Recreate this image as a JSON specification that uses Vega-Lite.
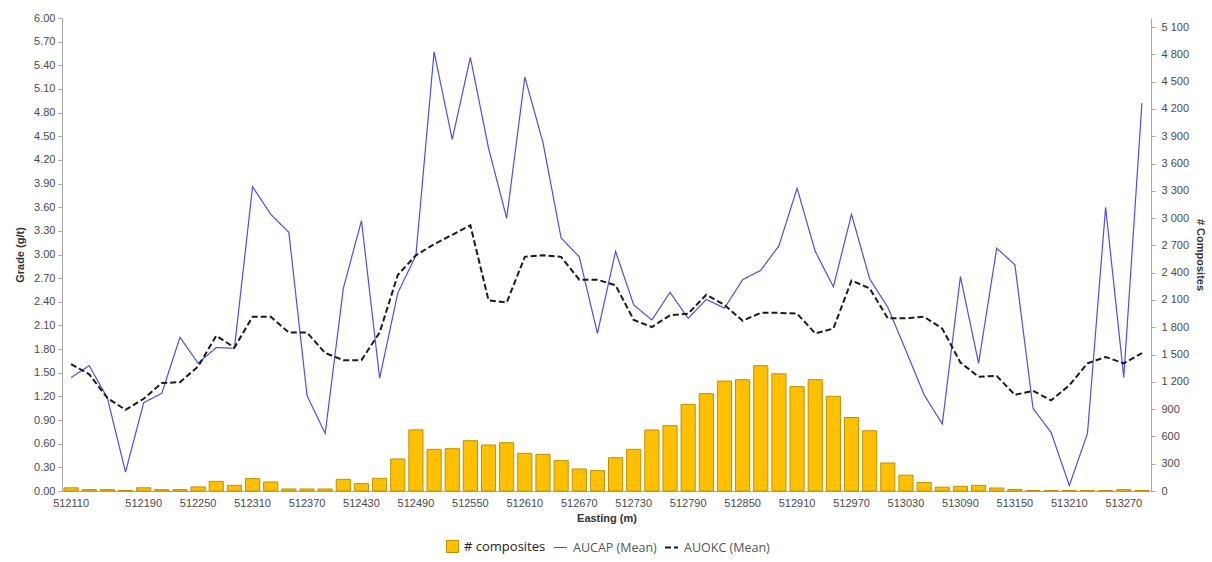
{
  "$schema": "https://vega.github.io/schema/vega-lite/v6.json",
  "width": 1089,
  "height": 473,
  "autosize": {"type": "none"},
  "padding": {"left": 62, "top": 18, "right": 61, "bottom": 71},
  "background": "white",
  "config": {
    "view": {"stroke": null},
    "font": "Liberation Sans",
    "axis": {"labelFont": "Liberation Sans", "labelFontSize": 11, "labelColor": "#4a4a4a", "titleFont": "Liberation Sans", "titleFontSize": 11, "titleFontWeight": "bold", "titleColor": "#333333", "domainColor": "#a6a6a6", "tickColor": "#a6a6a6", "gridColor": "#c4c4c4", "gridWidth": 1.3}
  },
  "data": {"values": [
    {"E": 512110, "comp": 35, "aucap": 1.44, "auokc": 1.61},
    {"E": 512130, "comp": 15, "aucap": 1.59, "auokc": 1.48},
    {"E": 512150, "comp": 15, "aucap": 1.18, "auokc": 1.18},
    {"E": 512170, "comp": 5, "aucap": 0.24, "auokc": 1.03},
    {"E": 512190, "comp": 35, "aucap": 1.12, "auokc": 1.17},
    {"E": 512210, "comp": 15, "aucap": 1.24, "auokc": 1.37},
    {"E": 512230, "comp": 15, "aucap": 1.95, "auokc": 1.38},
    {"E": 512250, "comp": 45, "aucap": 1.62, "auokc": 1.58},
    {"E": 512270, "comp": 106, "aucap": 1.82, "auokc": 1.97},
    {"E": 512290, "comp": 62, "aucap": 1.81, "auokc": 1.82},
    {"E": 512310, "comp": 136, "aucap": 3.86, "auokc": 2.21},
    {"E": 512330, "comp": 99, "aucap": 3.51, "auokc": 2.21},
    {"E": 512350, "comp": 22, "aucap": 3.28, "auokc": 2.01},
    {"E": 512370, "comp": 22, "aucap": 1.21, "auokc": 2.01},
    {"E": 512390, "comp": 22, "aucap": 0.73, "auokc": 1.75},
    {"E": 512410, "comp": 128, "aucap": 2.57, "auokc": 1.66},
    {"E": 512430, "comp": 81, "aucap": 3.43, "auokc": 1.66},
    {"E": 512450, "comp": 139, "aucap": 1.43, "auokc": 2.01},
    {"E": 512470, "comp": 352, "aucap": 2.51, "auokc": 2.74},
    {"E": 512490, "comp": 672, "aucap": 2.99, "auokc": 2.99},
    {"E": 512510, "comp": 458, "aucap": 5.57, "auokc": 3.13},
    {"E": 512530, "comp": 465, "aucap": 4.46, "auokc": 3.25},
    {"E": 512550, "comp": 553, "aucap": 5.5, "auokc": 3.37},
    {"E": 512570, "comp": 506, "aucap": 4.35, "auokc": 2.42},
    {"E": 512590, "comp": 531, "aucap": 3.46, "auokc": 2.39},
    {"E": 512610, "comp": 414, "aucap": 5.25, "auokc": 2.97},
    {"E": 512630, "comp": 403, "aucap": 4.42, "auokc": 2.99},
    {"E": 512650, "comp": 334, "aucap": 3.21, "auokc": 2.97},
    {"E": 512670, "comp": 242, "aucap": 2.97, "auokc": 2.68},
    {"E": 512690, "comp": 224, "aucap": 2.0, "auokc": 2.68},
    {"E": 512710, "comp": 366, "aucap": 3.04, "auokc": 2.61},
    {"E": 512730, "comp": 458, "aucap": 2.36, "auokc": 2.17},
    {"E": 512750, "comp": 671, "aucap": 2.17, "auokc": 2.08},
    {"E": 512770, "comp": 718, "aucap": 2.52, "auokc": 2.23},
    {"E": 512790, "comp": 953, "aucap": 2.19, "auokc": 2.25},
    {"E": 512810, "comp": 1070, "aucap": 2.43, "auokc": 2.49},
    {"E": 512830, "comp": 1209, "aucap": 2.32, "auokc": 2.36},
    {"E": 512850, "comp": 1224, "aucap": 2.68, "auokc": 2.16},
    {"E": 512870, "comp": 1378, "aucap": 2.8, "auokc": 2.26},
    {"E": 512890, "comp": 1288, "aucap": 3.11, "auokc": 2.26},
    {"E": 512910, "comp": 1147, "aucap": 3.84, "auokc": 2.25},
    {"E": 512930, "comp": 1224, "aucap": 3.04, "auokc": 2.0},
    {"E": 512950, "comp": 1041, "aucap": 2.59, "auokc": 2.06},
    {"E": 512970, "comp": 808, "aucap": 3.51, "auokc": 2.67},
    {"E": 512990, "comp": 662, "aucap": 2.69, "auokc": 2.57},
    {"E": 513010, "comp": 308, "aucap": 2.33, "auokc": 2.19},
    {"E": 513030, "comp": 174, "aucap": 1.78, "auokc": 2.19},
    {"E": 513050, "comp": 94, "aucap": 1.22, "auokc": 2.21},
    {"E": 513070, "comp": 42, "aucap": 0.85, "auokc": 2.06},
    {"E": 513090, "comp": 51, "aucap": 2.72, "auokc": 1.63},
    {"E": 513110, "comp": 62, "aucap": 1.62, "auokc": 1.45},
    {"E": 513130, "comp": 33, "aucap": 3.08, "auokc": 1.46},
    {"E": 513150, "comp": 18, "aucap": 2.87, "auokc": 1.22},
    {"E": 513170, "comp": 5, "aucap": 1.05, "auokc": 1.27},
    {"E": 513190, "comp": 5, "aucap": 0.74, "auokc": 1.15},
    {"E": 513210, "comp": 5, "aucap": 0.07, "auokc": 1.34},
    {"E": 513230, "comp": 5, "aucap": 0.73, "auokc": 1.62},
    {"E": 513250, "comp": 5, "aucap": 3.6, "auokc": 1.7},
    {"E": 513270, "comp": 15, "aucap": 1.44, "auokc": 1.62},
    {"E": 513290, "comp": 5, "aucap": 4.92, "auokc": 1.75}
  ]},
  "encoding": {
    "x": {
      "field": "E", "type": "ordinal",
      "scale": {"paddingInner": 0.22, "paddingOuter": 0.11},
      "axis": {"title": "Easting (m)", "labelAngle": 0, "ticks": false, "labelOverlap": false, "labelPadding": 6, "titlePadding": 4,
        "labelExpr": "(datum.value == 512110 || (datum.value >= 512190 && (datum.value - 512130) % 60 == 0)) ? datum.label : ''"}
    }
  },
  "layer": [
    {
      "mark": {"type": "bar", "stroke": "#bf9000", "strokeWidth": 1},
      "encoding": {
        "y": {"field": "comp", "type": "quantitative", "scale": {"domain": [0, 5200], "nice": false},
          "axis": {"orient": "right", "title": "# Composites", "grid": false, "values": [0,300,600,900,1200,1500,1800,2100,2400,2700,3000,3300,3600,3900,4200,4500,4800,5100],
            "labelExpr": "replace(format(datum.value, ','), ',', ' ')", "tickSize": 4, "labelPadding": 6, "titlePadding": 6}},
        "fill": {"datum": "# composites", "type": "nominal",
          "scale": {"domain": ["# composites"], "range": ["#ffc000"]},
          "legend": {"orient": "none", "legendX": 384, "legendY": 522, "direction": "horizontal", "title": null,
            "labelFont": "Open Sans", "labelFontSize": 13, "labelColor": "#222222", "symbolType": "square", "symbolSize": 144,
            "symbolStrokeColor": "#bf9000", "symbolStrokeWidth": 1, "labelOffset": 5}
        }
      }
    },
    {
      "transform": [{"fold": ["aucap", "auokc"], "as": ["series", "grade"]}],
      "mark": {"type": "line"},
      "encoding": {
        "y": {"field": "grade", "type": "quantitative", "scale": {"domain": [0, 6], "nice": false},
          "axis": {"title": "Grade (g/t)", "values": [0,0.3,0.6,0.9,1.2,1.5,1.8,2.1,2.4,2.7,3.0,3.3,3.6,3.9,4.2,4.5,4.8,5.1,5.4,5.7,6.0], "format": ".2f", "tickSize": 4, "labelPadding": 3, "titlePadding": 8}},
        "stroke": {"field": "series", "type": "nominal",
          "scale": {"domain": ["aucap", "auokc"], "range": ["#4f4fdc", "#1a1a1a"]},
          "legend": {"orient": "none", "legendX": 491, "legendY": 522, "direction": "horizontal", "title": null,
            "labelExpr": "datum.value == 'aucap' ? 'AUCAP (Mean)' : 'AUOKC (Mean)'",
            "labelFont": "Open Sans", "labelFontSize": 12.5, "labelColor": "#555555", "symbolType": "stroke", "symbolSize": 169,
            "symbolStrokeWidth": 1.6, "labelOffset": 5, "columnPadding": 4}},
        "strokeDash": {"field": "series", "type": "nominal",
          "scale": {"domain": ["aucap", "auokc"], "range": [[1, 0], [6, 3]]},
          "legend": {"orient": "none", "legendX": 491, "legendY": 522, "direction": "horizontal", "title": null,
            "labelExpr": "datum.value == 'aucap' ? 'AUCAP (Mean)' : 'AUOKC (Mean)'",
            "labelFont": "Open Sans", "labelFontSize": 12.5, "labelColor": "#555555", "symbolType": "stroke", "symbolSize": 169,
            "symbolStrokeWidth": 1.6, "labelOffset": 5, "columnPadding": 4}},
        "strokeWidth": {"field": "series", "type": "nominal",
          "scale": {"domain": ["aucap", "auokc"], "range": [1.2, 2]}, "legend": null}
      }
    }
  ],
  "resolve": {"scale": {"y": "independent"}}
}
